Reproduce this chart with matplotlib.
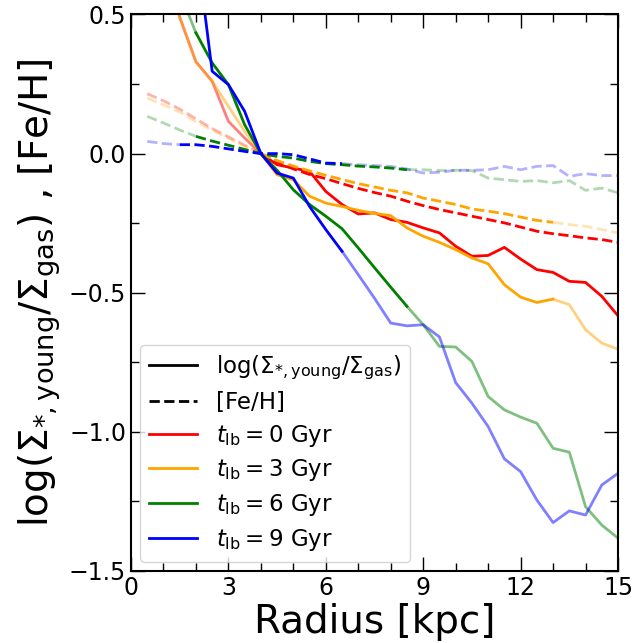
import numpy as np
import matplotlib
matplotlib.use('Agg')
import matplotlib.pyplot as plt
from matplotlib.lines import Line2D

# radial bins [kpc]
radius = np.arange(1, 31) * 0.5

# log(Sigma_*,young / Sigma_gas), one per lookback time
ratio_0 = [1.05, 0.75, 0.49, 0.33, 0.26, 0.116, 0.056, 0.0, -0.04, -0.052,
           -0.064, -0.136, -0.183, -0.217, -0.213, -0.237, -0.247, -0.267, -0.285, -0.333,
           -0.369, -0.366, -0.337, -0.379, -0.417, -0.427, -0.459, -0.463, -0.513, -0.583]
ratio_3 = [1.0, 0.74, 0.49, 0.33, 0.26, 0.17, 0.08, 0.0, -0.076, -0.094,
           -0.153, -0.178, -0.19, -0.204, -0.215, -0.223, -0.267, -0.297, -0.319, -0.345,
           -0.375, -0.396, -0.471, -0.516, -0.535, -0.523, -0.543, -0.633, -0.681, -0.703]
ratio_6 = [0.9, 0.75, 0.58, 0.434, 0.326, 0.248, 0.104, 0.0, -0.06, -0.13,
           -0.183, -0.225, -0.27, -0.339, -0.41, -0.48, -0.549, -0.615, -0.693, -0.695,
           -0.747, -0.873, -0.921, -0.947, -0.969, -1.059, -1.073, -1.269, -1.335, -1.382]
ratio_9 = [1.2, 1.0, 0.9, 0.76, 0.296, 0.248, 0.152, 0.0, -0.07, -0.088,
           -0.19, -0.273, -0.351, -0.435, -0.52, -0.609, -0.619, -0.615, -0.659, -0.823,
           -0.897, -0.981, -1.097, -1.143, -1.245, -1.326, -1.284, -1.299, -1.191, -1.149]

# [Fe/H]
feh_0 = [0.215, 0.19, 0.16, 0.125, 0.09, 0.06, 0.03, 0.0, -0.03, -0.055,
         -0.075, -0.09, -0.108, -0.125, -0.14, -0.153, -0.171, -0.187, -0.201, -0.213,
         -0.225, -0.237, -0.249, -0.264, -0.279, -0.288, -0.295, -0.303, -0.309, -0.319]
feh_3 = [0.2, 0.175, 0.15, 0.115, 0.085, 0.055, 0.027, 0.0, -0.025, -0.045,
         -0.062, -0.078, -0.093, -0.108, -0.12, -0.132, -0.141, -0.16, -0.171, -0.183,
         -0.199, -0.207, -0.216, -0.228, -0.24, -0.247, -0.255, -0.261, -0.273, -0.285]
feh_6 = [0.134, 0.11, 0.085, 0.062, 0.045, 0.03, 0.015, 0.0, -0.01, -0.016,
         -0.028, -0.036, -0.04, -0.045, -0.048, -0.052, -0.058, -0.058, -0.061, -0.06,
         -0.061, -0.088, -0.094, -0.1, -0.097, -0.105, -0.097, -0.132, -0.124, -0.141]
feh_9 = [0.044, 0.036, 0.032, 0.032, 0.026, 0.017, 0.008, 0.0, 0.0, -0.004,
         -0.019, -0.034, -0.036, -0.04, -0.043, -0.046, -0.055, -0.07, -0.067, -0.06,
         -0.06, -0.058, -0.046, -0.058, -0.046, -0.043, -0.082, -0.072, -0.079, -0.079]

lookback = [0, 3, 6, 9]
colors = ['red', 'orange', 'green', 'blue']
ratios = [ratio_0, ratio_3, ratio_6, ratio_9]
fehs = [feh_0, feh_3, feh_6, feh_9]
# radial range where each profile is drawn opaque
r_in = [4.0, 4.0, 2.0, 1.5]
r_out = [15.0, 13.0, 8.5, 6.5]

fig = plt.figure(figsize=(6.34, 6.43), dpi=100)
ax = fig.add_axes([0.2066, 0.112, 0.7682, 0.8655])

# faded parts first
for c, rat, feh, a, b in zip(colors, ratios, fehs, r_in, r_out):
    rat = np.array(rat)
    feh = np.array(feh)
    lo = radius <= a
    hi = radius >= b
    for m in (lo, hi):
        if m.sum() > 1:
            ax.plot(radius[m], rat[m], '-', color=c, lw=2, alpha=0.5)
            ax.plot(radius[m], feh[m], '--', color=c, lw=2, alpha=0.3)

# opaque parts
for c, rat, feh, a, b in zip(colors, ratios, fehs, r_in, r_out):
    rat = np.array(rat)
    feh = np.array(feh)
    m = (radius >= a) & (radius <= b)
    ax.plot(radius[m], rat[m], '-', color=c, lw=2)
    ax.plot(radius[m], feh[m], '--', color=c, lw=2)

ax.set_xlim(0, 15)
ax.set_ylim(-1.5, 0.5)
ax.set_xticks([0, 3, 6, 9, 12, 15])
ax.set_xticks(np.arange(0, 16, 1), minor=True)
ax.set_yticks([-1.5, -1.0, -0.5, 0.0, 0.5])
ax.set_yticks(np.arange(-1.5, 0.51, 0.25), minor=True)
ax.tick_params(which='both', direction='in', top=True, right=True, labelsize=17)
ax.tick_params(which='major', length=10, width=1)
ax.tick_params(which='minor', length=6, width=1)
for s in ax.spines.values():
    s.set_linewidth(1.5)

ax.set_xlabel('Radius [kpc]', fontsize=28, labelpad=2)
ax.set_ylabel(r'$\log(\Sigma_{*,\rm young}/\Sigma_{\rm gas})$ , [Fe/H]', fontsize=28, labelpad=4)

handles = [Line2D([], [], color='k', ls='-', lw=2),
           Line2D([], [], color='k', ls='--', lw=2)]
labels = [r'$\log(\Sigma_{*,\rm young}/\Sigma_{\rm gas})$', '[Fe/H]']
for c, t in zip(colors, lookback):
    handles.append(Line2D([], [], color=c, lw=2))
    labels.append(r'$t_{\rm lb}=%d$ Gyr' % t)
ax.legend(handles, labels, loc='lower left', fontsize=16.5, handlelength=2.1,
          labelspacing=0.38, borderaxespad=0.4)

fig.savefig('out.png', dpi=100)
